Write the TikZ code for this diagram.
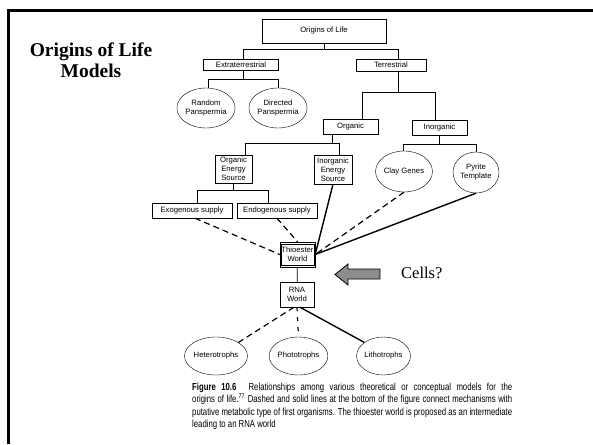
\documentclass[tikz,border=0pt]{standalone}
\usepackage{fontspec}
\setmainfont{Liberation Serif}
\newfontfamily\figfont{Liberation Sans}
\newfontfamily\capfont[FakeStretch=0.76]{Liberation Sans}
\usetikzlibrary{shapes.geometric}
\begin{document}
\begin{tikzpicture}[x=1pt, y=-1pt,
    box/.style={draw, inner sep=0pt, align=center, font=\figfont\fontsize{7.7}{9}\selectfont},
    blob/.style={ellipse, draw, inner sep=0pt, align=center, minimum width=46pt, minimum height=40pt, font=\figfont\fontsize{7.7}{9}\selectfont},
    tree/.style={line width=0.8pt},
    link/.style={line width=1.4pt},
    dlink/.style={line width=1.2pt, dash pattern=on 6pt off 4pt}]
    \useasboundingbox (0,0) rectangle (593,444);
    \draw[line width=2.5pt] (8.7,444) -- (8.7,10.3) -- (593,10.3);
    \node[font=\bfseries\fontsize{19.5}{21}\selectfont, align=center] (title) at (91,60) {Origins of Life\\Models};
    \node[box, minimum width=124pt, minimum height=24pt] (orig) at (324,31) {Origins of Life};
    \node[box, minimum width=75pt, minimum height=11pt] (extra) at (241,64.5) {Extraterrestrial};
    \node[box, minimum width=70pt, minimum height=12pt] (terr) at (391,65) {Terrestrial};
    \node[blob] (random) at (206,108) {Random\\Panspermia};
    \node[blob] (directed) at (278,108) {Directed\\Panspermia};
    \node[box, minimum width=55pt, minimum height=15pt] (organic) at (350.5,126.5) {Organic};
    \node[box, minimum width=55pt, minimum height=15pt] (inorganic) at (439.5,127.5) {Inorganic};
    \node[box, minimum width=37pt, minimum height=28pt] (oes) at (233.5,169) {Organic\\Energy\\Source};
    \node[box, minimum width=38pt, minimum height=29pt] (ies) at (333,169.5) {Inorganic\\Energy\\Source};
    \node[blob, minimum height=41pt] (clay) at (404,171.5) {Clay Genes};
    \node[blob, minimum height=41pt] (pyrite) at (476,172.5) {Pyrite\\Template};
    \node[box, minimum width=80pt, minimum height=15pt] (exo) at (192,210.5) {Exogenous supply};
    \node[box, minimum width=80pt, minimum height=15pt] (endo) at (277,210.5) {Endogenous supply};
    \node[box, minimum width=35pt, minimum height=25pt] (thio) at (297.5,254.5) {Thioester\\World};
    \draw[line width=0.6pt] ([shift={(1pt,-2pt)}]thio.north west) rectangle ([shift={(-1pt,2pt)}]thio.south east);
    \node[box, minimum width=34pt, minimum height=25pt] (rna) at (297,294.5) {RNA\\World};
    \node[blob, minimum width=48pt, minimum height=38pt] (hetero) at (216,356) {Heterotrophs};
    \node[blob, minimum width=48pt, minimum height=38pt] (photo) at (298.5,356) {Phototrophs};
    \node[blob, minimum width=48pt, minimum height=38pt] (litho) at (383.5,356) {Lithotrophs};

    \draw[tree] (orig.south) -- ++(0,6) coordinate (b1);
    \draw[tree] ([xshift=2pt]extra.north) |- (b1) -| ([xshift=7pt]terr.north);
    \draw[tree] ([xshift=2pt]extra.south) -- ++(0,9) coordinate (b2);
    \draw[tree] ([xshift=2pt]random.north) |- (b2) -| (directed.north);
    \draw[tree] ([xshift=7pt]terr.south) -- ++(0,21) coordinate (b3);
    \draw[tree] ([xshift=11.5pt]organic.north) |- (b3) -| ([xshift=-4.5pt]inorganic.north);
    \draw[tree] ([xshift=-18.5pt]organic.south) -- ++(0,9) coordinate (b4);
    \draw[tree] ([xshift=11.5pt]oes.north) |- (b4) -| ([xshift=6pt]ies.north);
    \draw[tree] (inorganic.south) -- ++(0,9) coordinate (b5);
    \draw[tree] ([xshift=-1pt]clay.north) |- (b5) -| (pyrite.north);
    \draw[tree] (oes.south) -- ++(0,7) coordinate (b6);
    \draw[tree] ([xshift=5pt]exo.north) |- (b6) -| ([xshift=-9pt]endo.north);

    \draw[dlink] ([xshift=3pt]exo.south) -- (thio.west);
    \draw[dlink] (endo.south) -- (thio.north);
    \draw[link] (ies.south) -- (thio.east);
    \draw[dlink] (clay.south) -- (thio.east);
    \draw[link] (pyrite.south) -- (thio.east);
    \draw[tree] (thio) -- (rna);
    \draw[dlink] ([xshift=-3pt]rna.south) -- (hetero.north east);
    \draw[line width=1.2pt, dash pattern=on 4pt off 6pt] (rna.south) -- (photo.north);
    \draw[link] ([xshift=3pt]rna.south) -- (litho.north west);

    \draw[fill=black!45, line width=0.8pt] (335,274.5) -- (348,264) -- (348,269) -- (380,269)
        -- (380,279) -- (348,279) -- (348,285) -- cycle;
    \node[anchor=west, inner sep=0pt, font=\fontsize{16.5}{18}\selectfont] (cells) at (401,273) {Cells?};

    \node[anchor=north west, inner sep=0pt, text width=320pt, align=justify,
        font=\capfont\fontsize{10.2}{12.5}\selectfont] (caption) at (192,382.5)
        {{\bfseries Figure 10.6}\hspace{1.2em}Relationships among various theoretical or conceptual models for the\linebreak
        origins of life.\textsuperscript{77} Dashed and solid lines at the bottom of the figure connect mechanisms with\linebreak
        putative metabolic type of first organisms. The thioester world is proposed as an intermediate\linebreak
        leading to an RNA world};
\end{tikzpicture}
\end{document}
